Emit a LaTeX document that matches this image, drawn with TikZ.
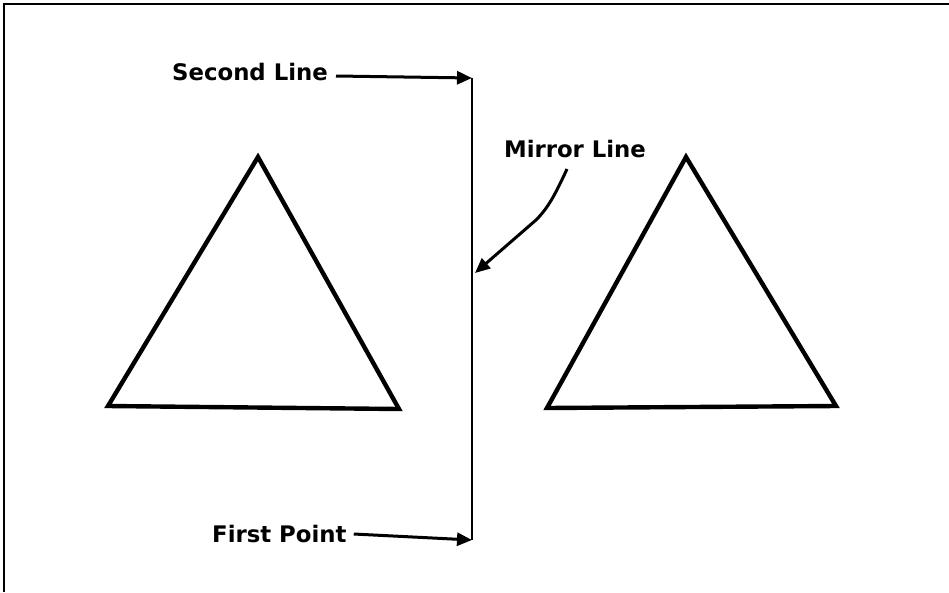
\documentclass[tikz,border=0pt]{standalone}
\usepackage{fontspec}
\setmainfont{DejaVu Sans}
\usetikzlibrary{arrows.meta}
\begin{document}
\begin{tikzpicture}[x=1pt,y=-1pt,
  lbl/.style={font=\bfseries\fontsize{22.8}{26}\selectfont, inner sep=0pt},
  tri/.style={line width=4.4pt, line join=miter},
  ptr/.style={line width=3pt, -{Triangle[length=15pt,width=13pt]}},
  mline/.style={line width=2.2pt}]
\useasboundingbox (0,0) rectangle (949,592);
\fill[white] (0,0) rectangle (949,592);
% frame
\draw[line width=2pt] (3.5,592) -- (3.5,3.5) -- (949,3.5);
% mirror line
\coordinate (top) at (472,78);
\coordinate (bot) at (472,540);
\draw[mline] (top) -- (bot);
% labels
\node[lbl, anchor=west] (second) at (172,72) {Second Line};
\node[lbl, anchor=west] (first) at (212,534) {First Point};
\node[lbl] (mirror) at (575,149) {Mirror Line};
% pointers
\draw[ptr] (second.east) ++(8,4) -- (top);
\draw[ptr] (first.east) ++(7,0) -- (bot);
\coordinate (mstart) at (567,169);
\coordinate (mtip) at (475,273);
\draw[ptr] (mstart) .. controls (555,195) and (548,208) .. (536,220) -- (mtip);
% triangles
\coordinate (la) at (258,157);
\coordinate (lb) at (108,406);
\coordinate (lc) at (399,409);
\draw[tri] (la) -- (lb) -- (lc) -- cycle;
\coordinate (ra) at (686,157);
\coordinate (rb) at (547,408);
\coordinate (rc) at (836,406);
\draw[tri] (ra) -- (rb) -- (rc) -- cycle;
\end{tikzpicture}
\end{document}
